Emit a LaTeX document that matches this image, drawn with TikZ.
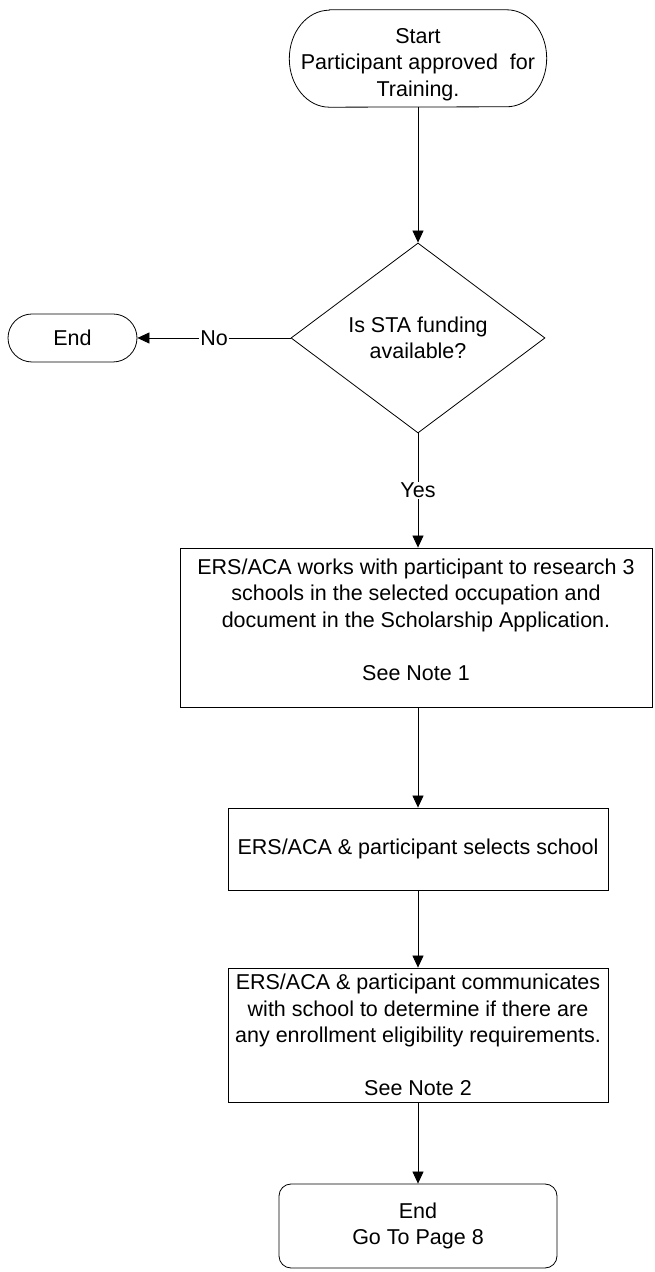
\documentclass[tikz,border=0pt]{standalone}
\usepackage{fontspec}
\setmainfont{Liberation Sans}
\usetikzlibrary{arrows.meta,shapes.geometric}
\begin{document}
\begin{tikzpicture}[x=1pt,y=1pt,
  every node/.style={font=\fontsize{21.5}{26.5}\selectfont, text=black},
  ln/.style={draw=black, line width=0.8pt},
  arr/.style={ln, -{Triangle[length=12pt,width=11pt]}},
  procbox/.style={ln, rectangle, align=center, inner sep=0pt},
  decis/.style={ln, diamond, align=center, inner sep=0pt, shape aspect=1.34, minimum width=254pt, minimum height=190pt},
  termtxt/.style={align=center, inner sep=0pt},
  lbl/.style={fill=white, inner sep=1pt}]
\useasboundingbox (0,0) rectangle (654,1272);
% start terminal
\node[termtxt, minimum width=257pt, minimum height=97pt] (start) at (418,1213.5) {\rule{0pt}{27pt}Start\\Participant approved\ \ for\\Training.};
\draw[ln] ([xshift=40pt]start.north west) -- ([xshift=-40pt]start.north east)
  arc[start angle=90, end angle=-90, x radius=40pt, y radius=48.5pt]
  -- ([xshift=40pt]start.south west)
  arc[start angle=270, end angle=90, x radius=40pt, y radius=48.5pt] -- cycle;
% decision
\node[decis] (dec) at (418,934) {Is STA funding\\available?};
\node[ln, rectangle, rounded corners=24pt, minimum width=129pt, minimum height=48pt, inner sep=0pt] (endL) at (72.5,934) {End};
% process boxes
\node[procbox, minimum width=472pt, minimum height=159pt] (b1) at (416,644.5) {ERS/ACA works with participant to research 3\\schools in the selected occupation and\\document in the Scholarship Application.\\[26.5pt]See Note 1\rule[-16pt]{0pt}{16pt}};
\node[procbox, minimum width=380pt, minimum height=82pt] (b2) at (418,423) {ERS/ACA \& participant selects school};
\node[procbox, minimum width=380pt, minimum height=134pt] (b3) at (418,237) {ERS/ACA \& participant communicates\\with school to determine if there are\\any enrollment eligibility requirements.\\[26pt]See Note 2};
\node[ln, rectangle, rounded corners=12pt, minimum width=278pt, minimum height=84pt, inner sep=0pt, align=center] (endB) at (418,46) {End\\Go To Page 8};
% connectors
\draw[arr] (start.south) -- (dec.north);
\draw[arr] (dec.west) -- node[lbl]{No} (endL.east);
\draw[arr] (dec.south) -- node[lbl]{Yes} (dec.south |- b1.north);
\draw[arr] (b1.south -| b2.north) -- (b2.north);
\draw[arr] (b2.south) -- (b3.north);
\draw[arr] (b3.south) -- (endB.north);
\end{tikzpicture}
\end{document}
